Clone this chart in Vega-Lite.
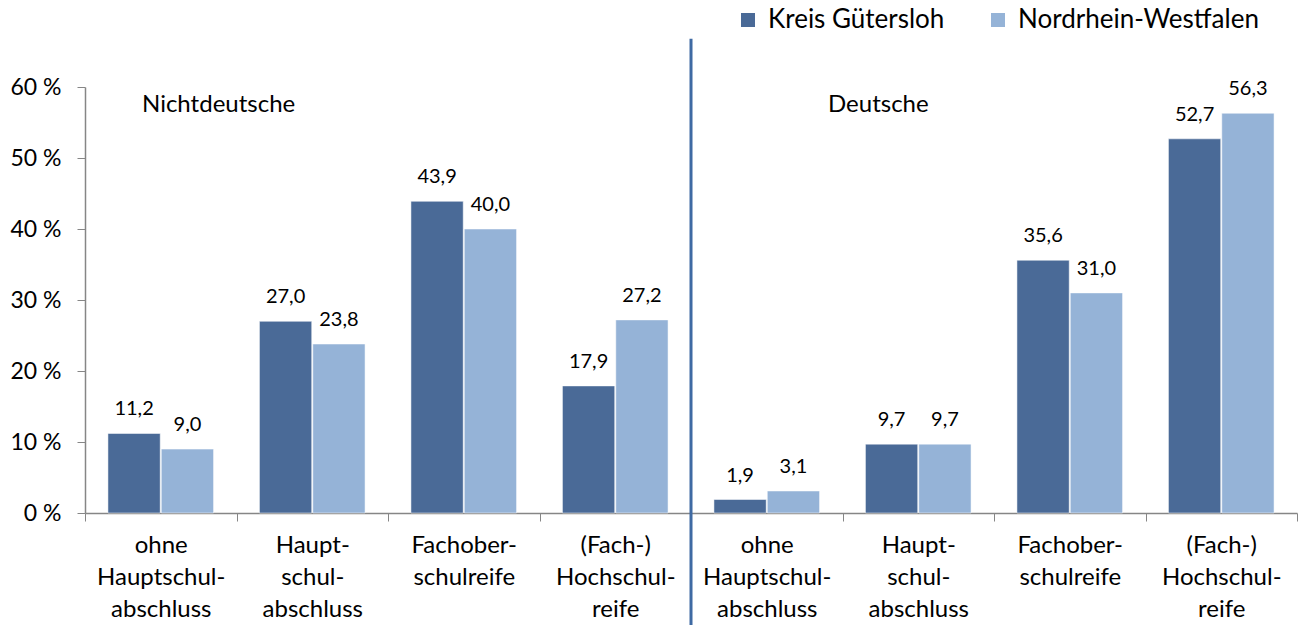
{
  "$schema": "https://vega.github.io/schema/vega-lite/v6.json",
  "width": 1212,
  "height": 426,
  "autosize": {"type": "none"},
  "padding": {"left": 85, "top": 87, "right": 2, "bottom": 112},
  "background": "white",
  "config": {
    "locale": {"number": {"decimal": ",", "thousands": ".", "grouping": [3], "currency": ["", " €"]}},
    "font": "Lato",
    "view": {"stroke": null}
  },
  "data": {
    "values": [
      {"cat": "1:ohne|Hauptschul-|abschluss", "series": "Kreis Gütersloh", "value": 11.2},
      {"cat": "1:ohne|Hauptschul-|abschluss", "series": "Nordrhein-Westfalen", "value": 9.0},
      {"cat": "2:Haupt-|schul-|abschluss", "series": "Kreis Gütersloh", "value": 27.0},
      {"cat": "2:Haupt-|schul-|abschluss", "series": "Nordrhein-Westfalen", "value": 23.8},
      {"cat": "3:Fachober-|schulreife", "series": "Kreis Gütersloh", "value": 43.9},
      {"cat": "3:Fachober-|schulreife", "series": "Nordrhein-Westfalen", "value": 40.0},
      {"cat": "4:(Fach-)|Hochschul-|reife", "series": "Kreis Gütersloh", "value": 17.9},
      {"cat": "4:(Fach-)|Hochschul-|reife", "series": "Nordrhein-Westfalen", "value": 27.2},
      {"cat": "5:ohne|Hauptschul-|abschluss", "series": "Kreis Gütersloh", "value": 1.9},
      {"cat": "5:ohne|Hauptschul-|abschluss", "series": "Nordrhein-Westfalen", "value": 3.1},
      {"cat": "6:Haupt-|schul-|abschluss", "series": "Kreis Gütersloh", "value": 9.7},
      {"cat": "6:Haupt-|schul-|abschluss", "series": "Nordrhein-Westfalen", "value": 9.7},
      {"cat": "7:Fachober-|schulreife", "series": "Kreis Gütersloh", "value": 35.6},
      {"cat": "7:Fachober-|schulreife", "series": "Nordrhein-Westfalen", "value": 31.0},
      {"cat": "8:(Fach-)|Hochschul-|reife", "series": "Kreis Gütersloh", "value": 52.7},
      {"cat": "8:(Fach-)|Hochschul-|reife", "series": "Nordrhein-Westfalen", "value": 56.3}
    ]
  },
  "encoding": {
    "x": {
      "field": "cat",
      "type": "nominal",
      "sort": null,
      "scale": {"paddingInner": 0, "paddingOuter": 0},
      "axis": {
        "title": null,
        "labelAngle": 0,
        "labelExpr": "isString(datum.value) ? split(substring(datum.value, 2), '|') : ''",
        "labelFontSize": 24,
        "labelLineHeight": 32,
        "labelBaseline": "top",
        "labelPadding": 12,
        "labelColor": "#000000",
        "tickBand": "extent",
        "tickSize": 8,
        "tickColor": "#868686",
        "domainColor": "#868686",
        "domainWidth": 1.5,
        "labelLimit": 300
      }
    },
    "y": {
      "field": "value",
      "type": "quantitative",
      "scale": {"domain": [0, 60], "nice": false},
      "axis": {
        "title": null,
        "values": [0, 10, 20, 30, 40, 50, 60],
        "labelExpr": "datum.value + ' %'",
        "labelFontSize": 23,
        "labelColor": "#000000",
        "labelPadding": 16,
        "tickSize": 8,
        "tickColor": "#868686",
        "domainColor": "#868686",
        "domainWidth": 1.5,
        "grid": false
      }
    }
  },
  "layer": [
    {
      "mark": {"type": "bar", "stroke": "white", "strokeWidth": 0.5},
      "encoding": {
        "xOffset": {"field": "series", "type": "nominal", "scale": {"paddingOuter": 0.43, "paddingInner": 0.02}},
        "color": {
          "field": "series",
          "type": "nominal",
          "scale": {"domain": ["Kreis Gütersloh", "Nordrhein-Westfalen"], "range": ["#4a6a97", "#95b3d7"]},
          "legend": {
            "title": null,
            "orient": "none",
            "direction": "horizontal",
            "legendX": 650,
            "legendY": -80,
            "symbolType": "square",
            "symbolSize": 196,
            "symbolStrokeWidth": 0,
            "labelFontSize": 26,
            "labelColor": "#000000",
            "labelOffset": 7,
            "columnPadding": 40,
            "labelLimit": 400
          }
        }
      }
    },
    {
      "mark": {"type": "text", "fontSize": 20, "baseline": "alphabetic", "dy": -18, "color": "#000000"},
      "encoding": {
        "xOffset": {"field": "series", "type": "nominal"},
        "text": {"field": "value", "type": "quantitative", "format": ".1f"}
      }
    },
    {
      "transform": [{"filter": "datum.cat == '1:ohne|Hauptschul-|abschluss' && datum.series == 'Kreis Gütersloh'"}],
      "mark": {"type": "rule", "color": "#3f6aa3", "strokeWidth": 3},
      "encoding": {
        "x": {"datum": "5:ohne|Hauptschul-|abschluss", "bandPosition": 0},
        "y": {"datum": 66.8},
        "y2": {"datum": -16}
      }
    },
    {
      "transform": [{"filter": "datum.cat == '1:ohne|Hauptschul-|abschluss' && datum.series == 'Kreis Gütersloh'"}],
      "mark": {"type": "text", "fontSize": 24, "align": "left", "baseline": "middle", "dx": 57, "color": "#000000"},
      "encoding": {
        "x": {"datum": "1:ohne|Hauptschul-|abschluss", "bandPosition": 0},
        "y": {"datum": 57.5},
        "text": {"value": "Nichtdeutsche"}
      }
    },
    {
      "transform": [{"filter": "datum.cat == '1:ohne|Hauptschul-|abschluss' && datum.series == 'Kreis Gütersloh'"}],
      "mark": {"type": "text", "fontSize": 24, "align": "left", "baseline": "middle", "dx": 137, "color": "#000000"},
      "encoding": {
        "x": {"datum": "5:ohne|Hauptschul-|abschluss", "bandPosition": 0},
        "y": {"datum": 57.5},
        "text": {"value": "Deutsche"}
      }
    }
  ]
}
